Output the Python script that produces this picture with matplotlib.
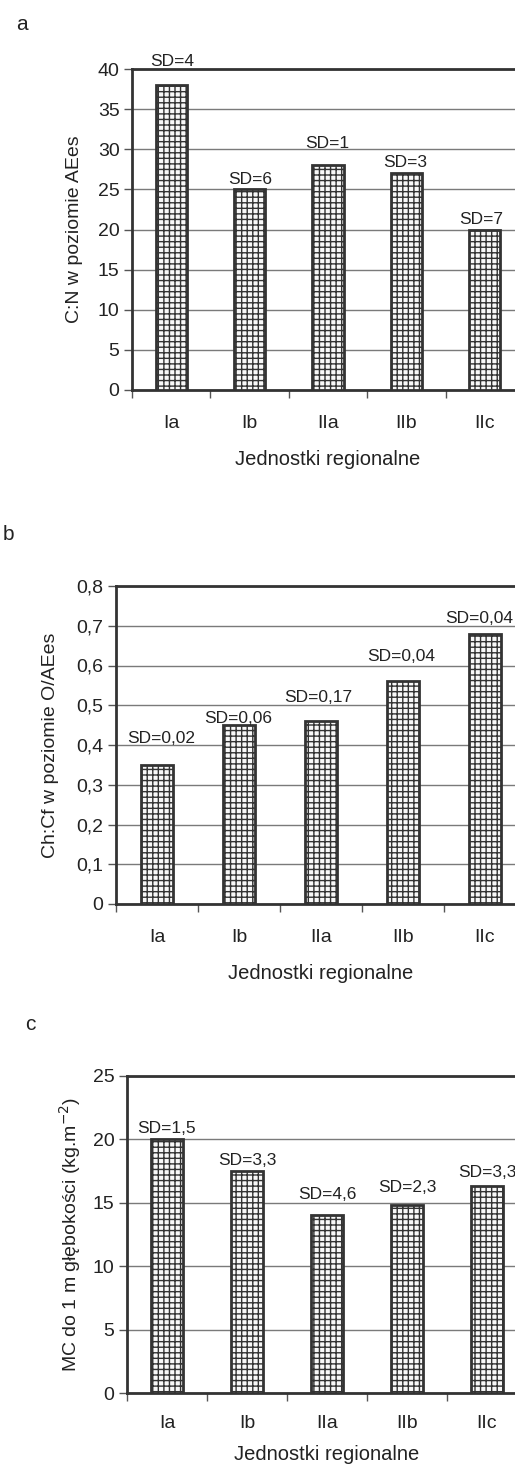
import matplotlib
matplotlib.use("Agg")
import matplotlib.pyplot as plt
import numpy as np

plt.rcParams['font.family'] = ['Liberation Sans', 'DejaVu Sans']
plt.rcParams['hatch.color'] = '#8a8a8a'
plt.rcParams['hatch.linewidth'] = 1.0

# dane
jednostki = ["Ia", "Ib", "IIa", "IIb", "IIc"]

cn_wartosci = [38, 25, 28, 27, 20]
cn_sd = ["SD=4", "SD=6", "SD=1", "SD=3", "SD=7"]

chcf_wartosci = [0.35, 0.45, 0.46, 0.56, 0.68]
chcf_sd = ["SD=0,02", "SD=0,06", "SD=0,17", "SD=0,04", "SD=0,04"]

mc_wartosci = [20.0, 17.5, 14.0, 14.8, 16.3]
mc_sd = ["SD=1,5", "SD=3,3", "SD=4,6", "SD=2,3", "SD=3,3"]

W, H = 515, 1466
TEKST = '#222222'
CIEMNY = '#333333'


def px_axes(lewo, prawo, gora, dol):
    return [lewo / W, (H - dol) / H, (prawo - lewo) / W, (dol - gora) / H]


def panel(rect, wartosci, sd, ymax, krok, ylabel, odstepy, fmt, ylab_x,
          przesun=None, pad_x=18, pad_lab=13):
    ax = fig.add_axes(rect)
    x = np.arange(len(jednostki))
    if przesun is None:
        przesun = [0] * len(jednostki)
    ax.bar(x, wartosci, width=0.4, color='#f8f8f8', edgecolor=CIEMNY,
           linewidth=2.0, hatch='+++', zorder=3)
    ax.set_xlim(-0.5, len(jednostki) - 0.5)
    ax.set_ylim(0, ymax)
    yt = np.arange(0, ymax + krok / 2, krok)
    ax.set_yticks(yt)
    ax.set_yticklabels([fmt(v) for v in yt])
    ax.yaxis.grid(True, color='#7a7a7a', linewidth=1.0, zorder=0)
    ax.set_xticks(x)
    ax.set_xticklabels(jednostki)
    ax.set_xticks(np.arange(-0.5, len(jednostki)), minor=True)
    ax.tick_params(axis='x', which='major', length=0, pad=pad_x, labelsize=14,
                   colors=TEKST)
    ax.tick_params(axis='x', which='minor', length=6, width=1.0,
                   color='#555555')
    ax.tick_params(axis='y', length=6, width=1.0, color='#555555', pad=3,
                   labelsize=14, labelcolor=TEKST)
    for s in ['left', 'bottom', 'top']:
        ax.spines[s].set_color(CIEMNY)
        ax.spines[s].set_linewidth(2.0)
    ax.spines['right'].set_visible(False)
    ax.set_xlabel("Jednostki regionalne", fontsize=14.5, color=TEKST,
                  labelpad=pad_lab)
    ax.set_ylabel(ylabel, fontsize=14, color=TEKST)
    ax.yaxis.set_label_coords(ylab_x, 0.5)
    for xi, v, t, o, dx in zip(x, wartosci, sd, odstepy, przesun):
        ax.annotate(t, (xi, v), xytext=(dx * 0.72, o * 0.72),
                    textcoords='offset points', ha='center', va='baseline',
                    fontsize=12.5, color=TEKST, annotation_clip=False)
    return ax


fig = plt.figure(figsize=(W / 100, H / 100), dpi=100)

panel(px_axes(132, 524, 69, 390), cn_wartosci, cn_sd, 40, 5,
      "C:N w poziomie AEes", [19, 5, 17, 6, 6],
      lambda v: "%d" % v, -0.125, [1, 1, -1, -1, -4])
fig.text(16 / W, 1 - 30 / H, "a", fontsize=15, color=TEKST)

panel(px_axes(116, 526, 586, 904), chcf_wartosci, chcf_sd, 0.8, 0.1,
      "Ch:Cf w poziomie O/AEes", [22, 2, 19, 20, 11],
      lambda v: "0" if v == 0 else ("%.1f" % v).replace('.', ','), -0.14,
      [4, -1, -3, -2, -6])
fig.text(3 / W, 1 - 540 / H, "b", fontsize=15, color=TEKST)

panel(px_axes(127, 527, 1076, 1393), mc_wartosci, mc_sd, 25, 5,
      "MC do 1 m głębokości (kg.m$^{-2}$)", [6, 6, 16, 13, 9],
      lambda v: "%d" % v, -0.11, pad_x=16, pad_lab=9)
fig.text(25 / W, 1 - 1030 / H, "c", fontsize=15, color=TEKST)

fig.savefig("out.png", dpi=100)
